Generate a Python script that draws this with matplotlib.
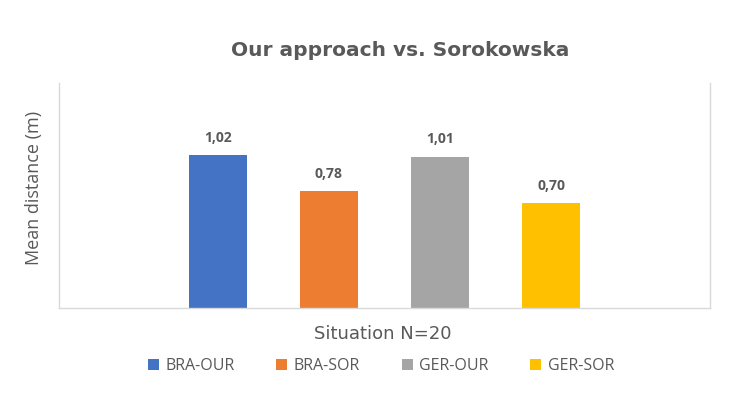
import matplotlib
matplotlib.use("Agg")
import matplotlib.pyplot as plt
from matplotlib.patches import Patch

categories = ["BRA-OUR", "BRA-SOR", "GER-OUR", "GER-SOR"]
values = [1.02, 0.78, 1.01, 0.70]
colors = ["#4472C4", "#ED7D31", "#A5A5A5", "#FFC000"]

title = "Our approach vs. Sorokowska"
ylabel = "Mean distance (m)"
xlabel = "Situation N=20"

TXT = "#595959"
plt.rcParams['font.family'] = ['Open Sans', 'DejaVu Sans']

fig = plt.figure(figsize=(7.45, 3.96), dpi=100)
ax = fig.add_axes([59/745, 1 - 308/396, (710-59)/745, (308-83)/396])

xs = list(range(len(values)))
bars = ax.bar(xs, values, width=0.52, color=colors)
for x, v in zip(xs, values):
    ax.text(x, v + 0.07, f"{v:.2f}".replace('.', ','), ha='center', va='bottom',
            fontsize=10, fontweight='bold', color=TXT)

ax.set_xlim(-1.43, 4.43)
ax.set_ylim(0, 1.5)
ax.set_xticks([])
ax.set_yticks([])
for s in ax.spines.values():
    s.set_color("#D9D9D9")
    s.set_linewidth(1.0)
ax.spines['top'].set_visible(False)

fig.text(400/745, 1 - 50/396, title, ha='center', va='center', fontsize=14.5,
         fontweight='bold', color=TXT, family=['DejaVu Sans'])
fig.text(34/745, 1 - 188/396, ylabel, ha='center', va='center', rotation=90,
         fontsize=13, color=TXT)
fig.text(383/745, 1 - 334/396, xlabel, ha='center', va='center', fontsize=13,
         color=TXT, family=['DejaVu Sans'])

handles = [Patch(facecolor=c, edgecolor='none') for c in colors]
fig.legend(handles, categories, loc='center', bbox_to_anchor=(381/745, 1 - 366/396),
           ncol=4, frameon=False, handlelength=0.7, handleheight=0.7,
           handletextpad=0.4, columnspacing=2.6, prop={'size': 11.5},
           labelcolor=TXT)

fig.savefig("out.png", dpi=100)
